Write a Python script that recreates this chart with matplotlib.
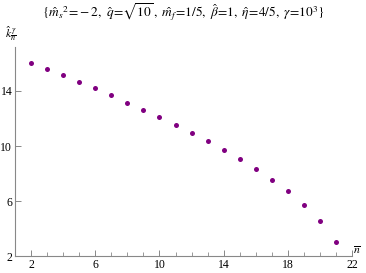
import matplotlib
matplotlib.use("Agg")
import matplotlib.pyplot as plt
from matplotlib.ticker import MultipleLocator

plt.rcParams['font.family'] = 'Liberation Serif'
plt.rcParams['mathtext.fontset'] = 'stix'

n_bar = [2, 3, 4, 5, 6, 7, 8, 9, 10, 11, 12, 13, 14, 15, 16, 17, 18, 19, 20, 21]
k_gamma = [16.04, 15.58, 15.14, 14.65, 14.2, 13.69, 13.15, 12.64, 12.11, 11.53,
           10.95, 10.36, 9.71, 9.06, 8.33, 7.53, 6.71, 5.73, 4.57, 3.0]

xticks = [2, 6, 10, 14, 18, 22]
yticks = [2, 6, 10, 14]

fig = plt.figure(figsize=(3.66, 2.73), dpi=100)
ax = fig.add_axes([0.041, 0.062, 0.921, 0.766])

ax.plot(n_bar, k_gamma, 'o', color='#800080', markersize=3.6, markeredgewidth=0)

ax.set_xlim(1, 22)
ax.set_ylim(2, 17.2)
ax.set_xticks(xticks)
ax.set_yticks(yticks)
ax.xaxis.set_minor_locator(MultipleLocator(1))

for s in ['top', 'right']:
    ax.spines[s].set_visible(False)
for s in ['left', 'bottom']:
    ax.spines[s].set_color('#888888')
    ax.spines[s].set_linewidth(0.8)

ax.tick_params(which='both', direction='in', color='#888888', labelsize=8.5, pad=2)
ax.tick_params(which='major', length=4, width=0.7)
ax.tick_params(which='minor', length=3, width=0.6)

fig.text(0.5, 0.955, r'$\{\hat{m}_s{}^2\!=\!-2,\ \hat{q}\!=\!\sqrt{10}\,,\ \hat{m}_f\!=\!1/5,\ \hat{\beta}\!=\!1,\ \hat{\eta}\!=\!4/5,\ \gamma\!=\!10^3\}$',
         ha='center', va='center', fontsize=9.6)
fig.text(0.015, 0.875, r'$\hat{k}_{\overline{n}}^{\,\gamma}$', ha='left', va='center', fontsize=8.5)
fig.text(0.965, 0.08, r'$\overline{n}$', ha='left', va='center', fontsize=8.5)

fig.savefig('out.png', dpi=100)
